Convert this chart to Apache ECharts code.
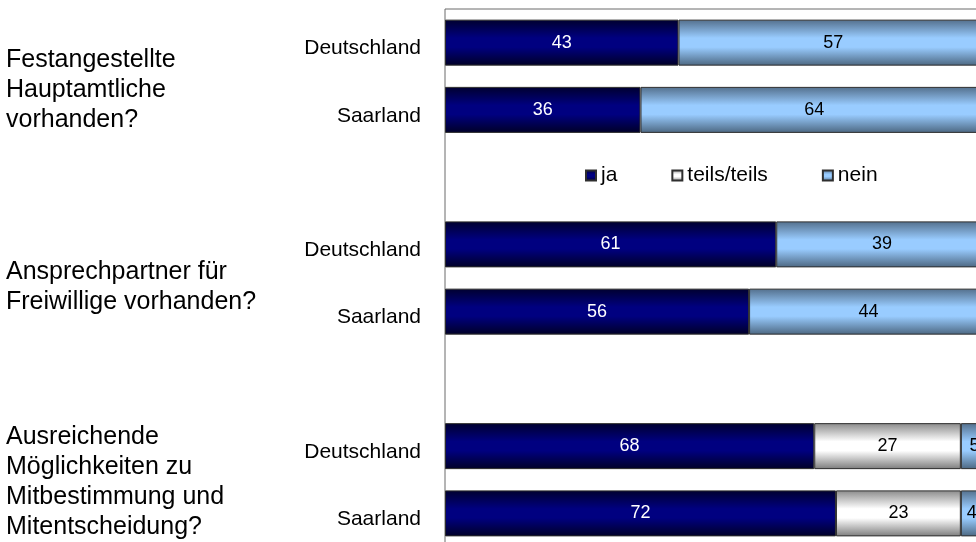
<!DOCTYPE html>
<html>
<head>
<meta charset="utf-8">
<script src="https://cdn.jsdelivr.net/npm/echarts@6/dist/echarts.min.js"></script>
<style>
  html, body { margin: 0; padding: 0; background: #fff; }
  #chart { width: 976px; height: 542px; }
</style>
</head>
<body>
<div id="chart"></div>
<script>
// rows top to bottom, empty strings are the spacer rows between the question groups
const regions = ['Deutschland', 'Saarland', '', 'Deutschland', 'Saarland', '', 'Deutschland', 'Saarland']
const ja = [43, 36, null, 61, 56, null, 68, 72]
const teils = [null, null, null, null, null, null, 27, 23]
const nein = [57, 64, null, 39, 44, null, 5, 4]
const questions = [
  'Festangestellte\nHauptamtliche\nvorhanden?',
  'Ansprechpartner für\nFreiwillige vorhanden?',
  'Ausreichende\nMöglichkeiten zu\nMitbestimmung und\nMitentscheidung?',
]

const FONT = 'Liberation Sans, Arial, sans-serif'

function shade(edgeTop, mid, edgeBottom) {
  return new echarts.graphic.LinearGradient(0, 0, 0, 1, [
    { offset: 0, color: edgeTop },
    { offset: 0.4, color: mid },
    { offset: 0.6, color: mid },
    { offset: 1, color: edgeBottom },
  ])
}

function barSeries(name, data, fill, labelColor) {
  return {
    name,
    type: 'bar',
    stack: 'total',
    data,
    barWidth: 46,
    itemStyle: { color: fill, borderColor: '#2e2e2e', borderWidth: 1 },
    label: {
      show: true,
      position: 'inside',
      color: labelColor,
      fontSize: 18,
      fontFamily: FONT,
      formatter: (p) => (p.value ? p.value : ''),
    },
  }
}

const chart = echarts.init(document.getElementById('chart'), null, { renderer: 'canvas' })

chart.setOption({
  animation: false,
  textStyle: { fontFamily: FONT },
  grid: {
    left: 445,
    top: 9,
    width: 543,
    height: 538,
    outerBoundsMode: 'none',
    show: true,
    borderColor: '#6a6a6a',
    borderWidth: 1,
    backgroundColor: 'transparent',
  },
  legend: {
    left: 585,
    top: 165,
    padding: 0,
    itemWidth: 10,
    itemHeight: 10,
    itemGap: 54,
    icon: 'rect',
    textStyle: { fontSize: 21, color: '#000', fontFamily: FONT },
    data: ['ja', 'teils/teils', 'nein'],
  },
  xAxis: {
    type: 'value',
    min: 0,
    max: 100,
    show: false,
  },
  yAxis: {
    type: 'category',
    inverse: true,
    data: regions,
    axisLine: { show: false },
    axisTick: { show: false },
    // labels sit a little below the bar centres in the original
    axisLabel: {
      margin: 24,
      fontSize: 21,
      color: '#000',
      fontFamily: FONT,
      verticalAlign: 'top',
      lineHeight: 12,
    },
  },
  graphic: [
    { type: 'text', left: 6, top: 90 - 45, style: { text: questions[0], font: '25px ' + FONT, lineHeight: 30, fill: '#000' } },
    { type: 'text', left: 6, top: 287 - 30, style: { text: questions[1], font: '25px ' + FONT, lineHeight: 30, fill: '#000' } },
    { type: 'text', left: 6, top: 482 - 60, style: { text: questions[2], font: '25px ' + FONT, lineHeight: 30, fill: '#000' } },
  ],
  series: [
    barSeries('ja', ja, shade('#00002e', '#000080', '#000026'), '#fff'),
    barSeries('teils/teils', teils, shade('#8a8a8a', '#ffffff', '#7c7c7c'), '#000'),
    barSeries('nein', nein, shade('#536f8c', '#99ccff', '#4c6781'), '#000'),
  ],
})
</script>
</body>
</html>
